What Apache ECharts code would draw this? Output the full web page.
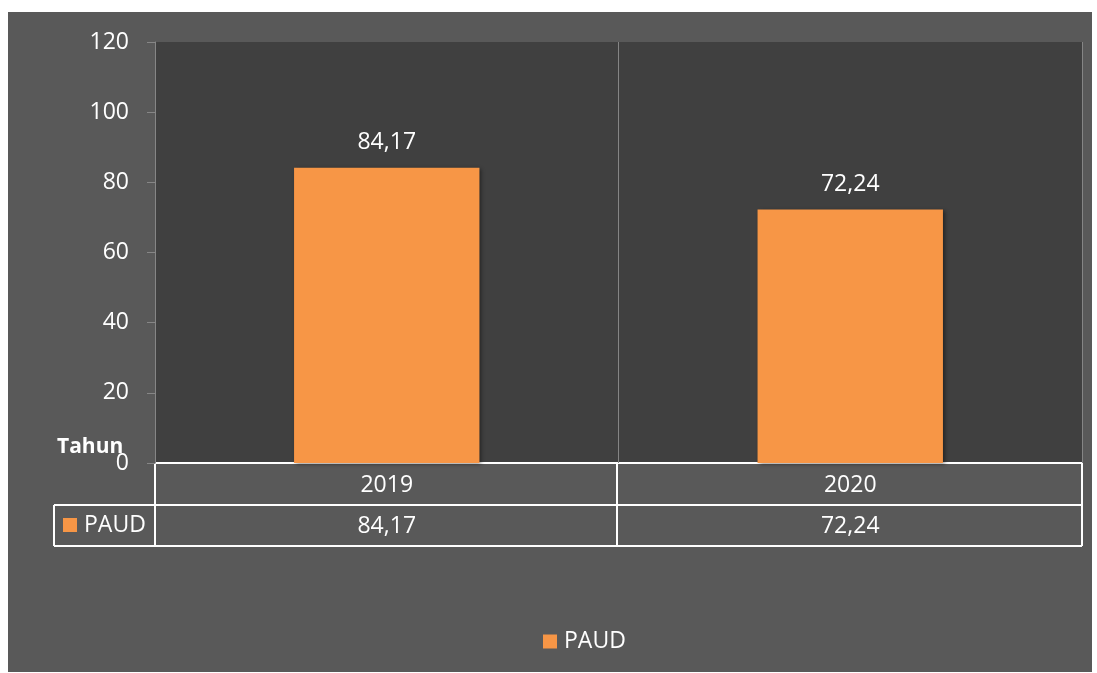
<!DOCTYPE html>
<html>
<head>
<meta charset="utf-8">
<script src="https://cdn.jsdelivr.net/npm/echarts@6/dist/echarts.min.js"></script>
<style>
  body { margin: 0; background: #ffffff; }
  #frame { position: absolute; left: 8px; top: 12px; width: 1084px; height: 660px; background: #595959; }
  #chart { position: absolute; left: 0; top: 0; width: 1097px; height: 673px; }
</style>
</head>
<body>
<div id="frame"></div>
<div id="chart"></div>
<script>
const years = ["2019", "2020"];
const paud = [84.17, 72.24];
const seriesName = "PAUD";

const fmt = (v) => v.toFixed(2).replace(".", ",");
const font = "'Open Sans', 'Noto Sans', sans-serif";
const fs = 23;
const white = "#ffffff";
const orange = "#f79646";

const chart = echarts.init(document.getElementById("chart"));

const option = {
    backgroundColor: "transparent",
    textStyle: { fontFamily: font },
    animation: false,
    grid: {
        left: 155,
        right: 15,
        top: 42,
        bottom: 210,
        show: true,
        backgroundColor: "#404040",
        borderWidth: 0,
    },
    legend: {
        bottom: 15,
        left: 538,
        icon: "rect",
        itemWidth: 14,
        itemHeight: 14,
        itemGap: 8,
        textStyle: { color: white, fontSize: fs, fontFamily: font, padding: [0, 0, 0, 2] },
        data: [seriesName],
    },
    xAxis: [
        {
            type: "category",
            data: years,
            axisLine: { show: false },
            axisTick: { show: false },
            splitLine: { show: true, lineStyle: { color: "#858585", width: 1 } },
            axisLabel: { color: white, fontSize: fs, margin: 11, fontFamily: font },
        },
        {
            type: "category",
            data: years,
            position: "bottom",
            offset: 42,
            axisLine: { show: false },
            axisTick: { show: false },
            axisLabel: {
                color: white,
                fontSize: fs,
                margin: 10,
                fontFamily: font,
                formatter: (v, i) => fmt(paud[i]),
            },
        },
    ],
    yAxis: {
        type: "value",
        min: 0,
        max: 120,
        interval: 20,
        axisLine: { show: true, lineStyle: { color: "#868686", width: 1 } },
        axisTick: { show: true, length: 8, lineStyle: { color: "#868686" } },
        splitLine: { show: false },
        axisLabel: { color: white, fontSize: fs, margin: 26, fontFamily: font },
    },
    series: [
        {
            name: seriesName,
            type: "bar",
            data: paud,
            barWidth: "40%",
            itemStyle: {
                color: orange,
                shadowColor: "rgba(0,0,0,0.45)",
                shadowBlur: 4,
                shadowOffsetX: 2,
                shadowOffsetY: 1,
            },
            label: {
                show: true,
                position: "top",
                distance: 14,
                color: white,
                fontSize: fs,
                fontFamily: font,
                formatter: (p) => fmt(p.value),
            },
        },
    ],
    graphic: [
        // data table grid lines
        { type: "line", shape: { x1: 155, y1: 463, x2: 1082, y2: 463 }, style: { stroke: white, lineWidth: 2 } },
        { type: "line", shape: { x1: 54, y1: 505, x2: 1082, y2: 505 }, style: { stroke: white, lineWidth: 2 } },
        { type: "line", shape: { x1: 54, y1: 546, x2: 1082, y2: 546 }, style: { stroke: white, lineWidth: 2 } },
        { type: "line", shape: { x1: 54, y1: 505, x2: 54, y2: 546 }, style: { stroke: white, lineWidth: 2 } },
        { type: "line", shape: { x1: 155, y1: 463, x2: 155, y2: 546 }, style: { stroke: white, lineWidth: 2 } },
        { type: "line", shape: { x1: 617, y1: 463, x2: 617, y2: 546 }, style: { stroke: white, lineWidth: 2 } },
        { type: "line", shape: { x1: 1082, y1: 463, x2: 1082, y2: 546 }, style: { stroke: white, lineWidth: 2 } },
        // legend key inside table
        { type: "rect", shape: { x: 63, y: 518, width: 14, height: 14 }, style: { fill: orange } },
        { type: "text", x: 84, y: 525, style: { text: seriesName, fill: white, font: fs + "px " + font, verticalAlign: "middle" } },
        // category axis title
        { type: "text", x: 57, y: 447, style: { text: "Tahun", fill: white, font: "bold 21px " + font, verticalAlign: "middle" } },
    ],
};

chart.setOption(option);
</script>
</body>
</html>
